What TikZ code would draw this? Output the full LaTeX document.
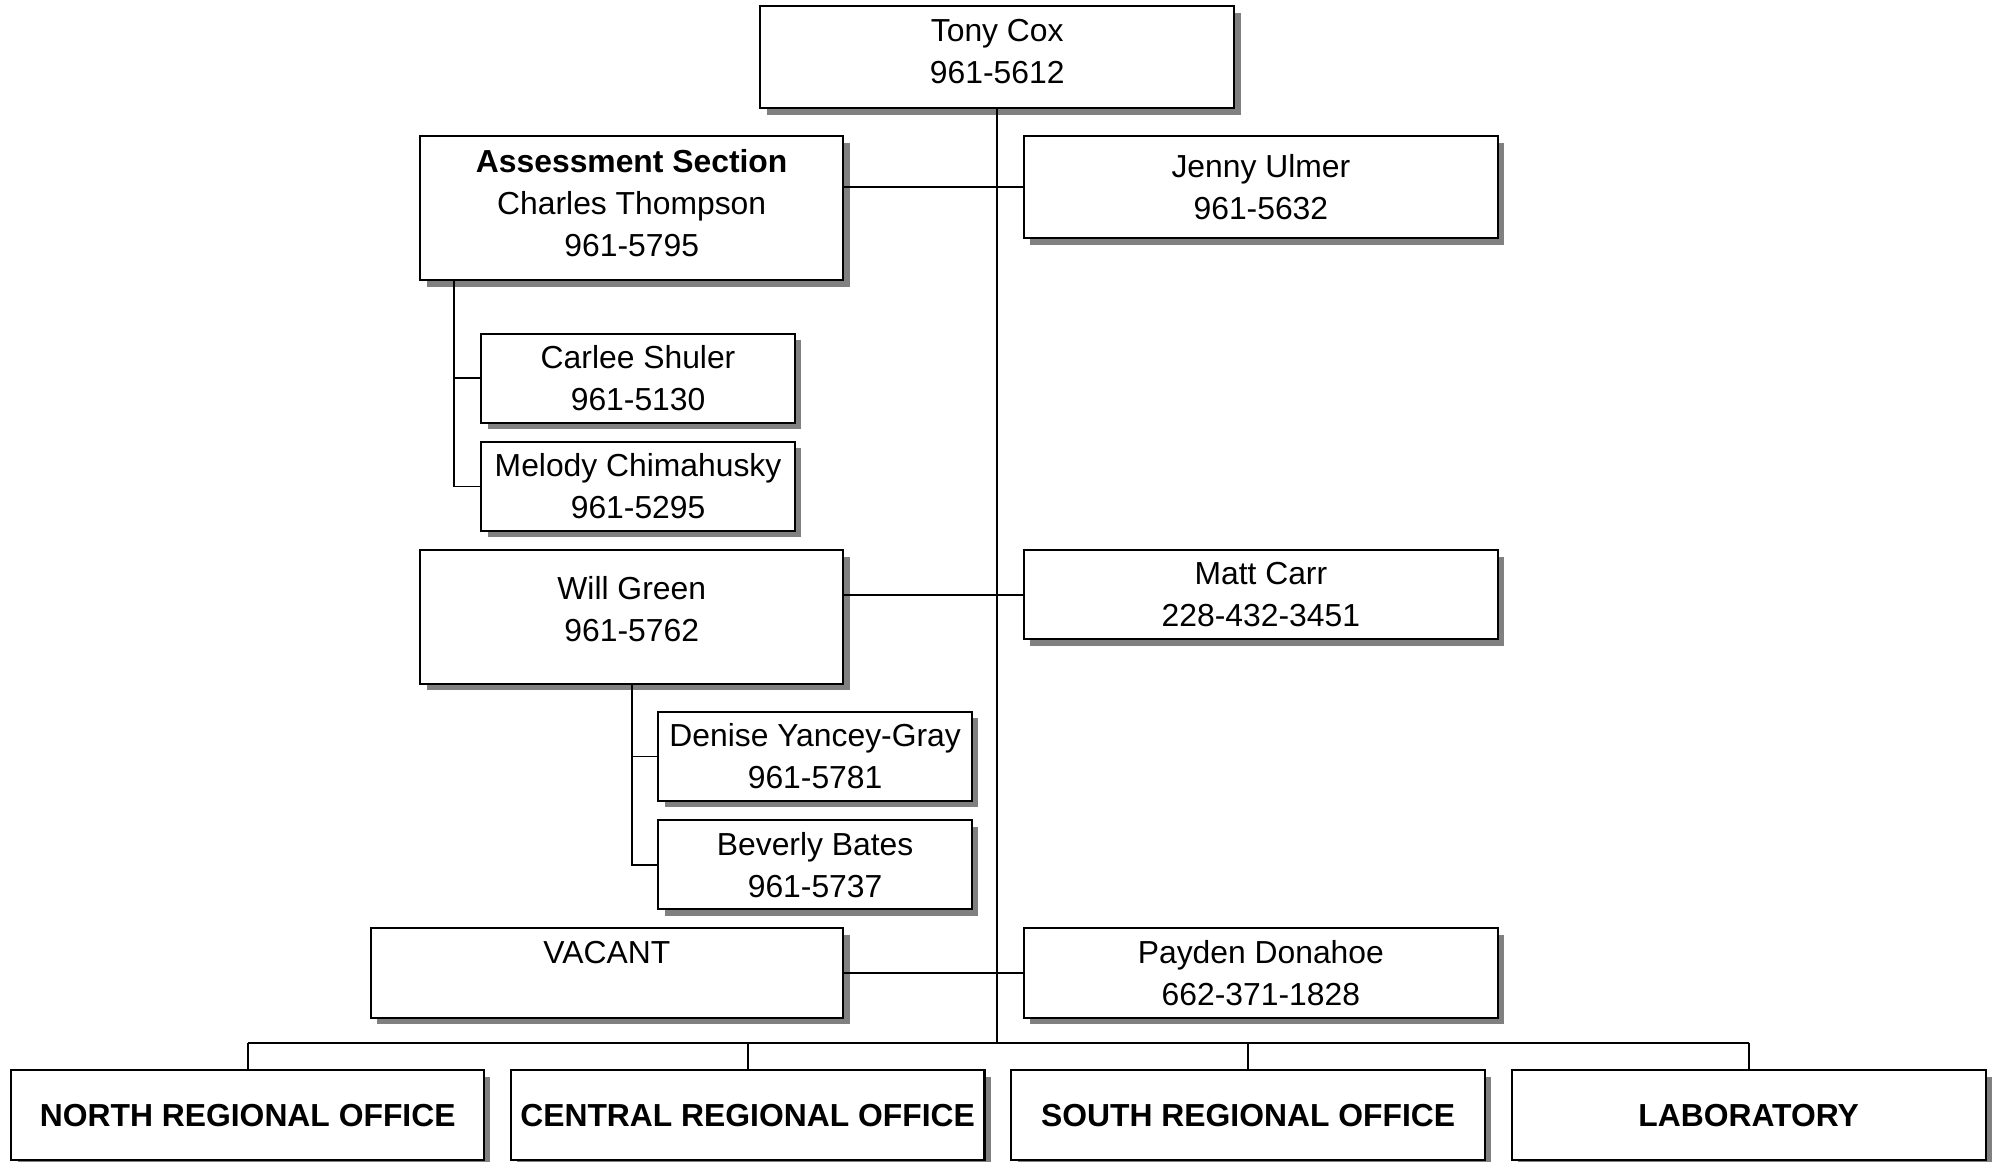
\documentclass[tikz,border=0pt]{standalone}
\usepackage{fontspec}
\setmainfont{Liberation Sans}
\usetikzlibrary{shadows}
\begin{document}
\begin{tikzpicture}[x=1pt,y=-1pt,
  box/.style={draw=black, line width=1.6pt, fill=white, inner sep=0pt, align=center,
    font=\fontsize{25}{33}\selectfont,
    drop shadow={shadow xshift=5pt, shadow yshift=-5pt, fill=black!50, opacity=1}},
  bbox/.style={box, minimum width=372pt, minimum height=70pt, font=\fontsize{25}{33}\selectfont\bfseries},
  conn/.style={draw=black, line width=1.4pt}]
\useasboundingbox (0,0) rectangle (1568,912);
\node[box, minimum width=372pt, minimum height=80pt, text depth=9pt] (tony) at (783,45) {Tony Cox\\961-5612};
\node[box, minimum width=332pt, minimum height=113pt, text depth=9pt] (assess) at (496,163.5) {\textbf{Assessment Section}\\Charles Thompson\\961-5795};
\node[box, minimum width=372pt, minimum height=80pt] (jenny) at (990,147) {Jenny Ulmer\\961-5632};
\node[box, minimum width=246pt, minimum height=70pt] (carlee) at (501,297) {Carlee Shuler\\961-5130};
\node[box, minimum width=246pt, minimum height=70pt] (melody) at (501,382) {Melody Chimahusky\\961-5295};
\node[box, minimum width=332pt, minimum height=105pt, text depth=13pt] (will) at (496,484.5) {Will Green\\961-5762};
\node[box, minimum width=372pt, minimum height=70pt] (matt) at (990,467) {Matt Carr\\228-432-3451};
\node[box, minimum width=246pt, minimum height=70pt] (denise) at (640,594) {Denise Yancey-Gray\\961-5781};
\node[box, minimum width=246pt, minimum height=70pt] (beverly) at (640,679) {Beverly Bates\\961-5737};
\node[box, minimum width=371pt, minimum height=70pt] (vacant) at (476.5,764) {VACANT\\\mbox{}};
\node[box, minimum width=372pt, minimum height=70pt] (payden) at (990,764) {Payden Donahoe\\662-371-1828};
\node[bbox, minimum width=371pt] (north) at (194.5,875.5) {NORTH REGIONAL OFFICE};
\node[bbox] (central) at (587,875.5) {CENTRAL REGIONAL OFFICE};
\node[bbox] (south) at (980,875.5) {SOUTH REGIONAL OFFICE};
\node[bbox] (lab) at (1373,875.5) {LABORATORY};
\coordinate (bus) at (783,819);
\draw[conn] (tony.south) -- (tony.south |- bus);
\draw[conn] (north.north |- bus) -- (lab.north |- bus);
\draw[conn] (north.north) -- (north.north |- bus);
\draw[conn] (central.north) -- (central.north |- bus);
\draw[conn] (south.north) -- (south.north |- bus);
\draw[conn] (lab.north) -- (lab.north |- bus);
\draw[conn] (jenny.west) -- (jenny.west -| assess.east);
\draw[conn] (matt.west) -- (matt.west -| will.east);
\draw[conn] (payden.west) -- (vacant.east);
\draw[conn] ([xshift=27pt]assess.south west) |- (carlee.west);
\draw[conn] ([xshift=27pt]assess.south west) |- (melody.west);
\draw[conn] (will.south) |- (denise.west);
\draw[conn] (will.south) |- (beverly.west);
\end{tikzpicture}
\end{document}
